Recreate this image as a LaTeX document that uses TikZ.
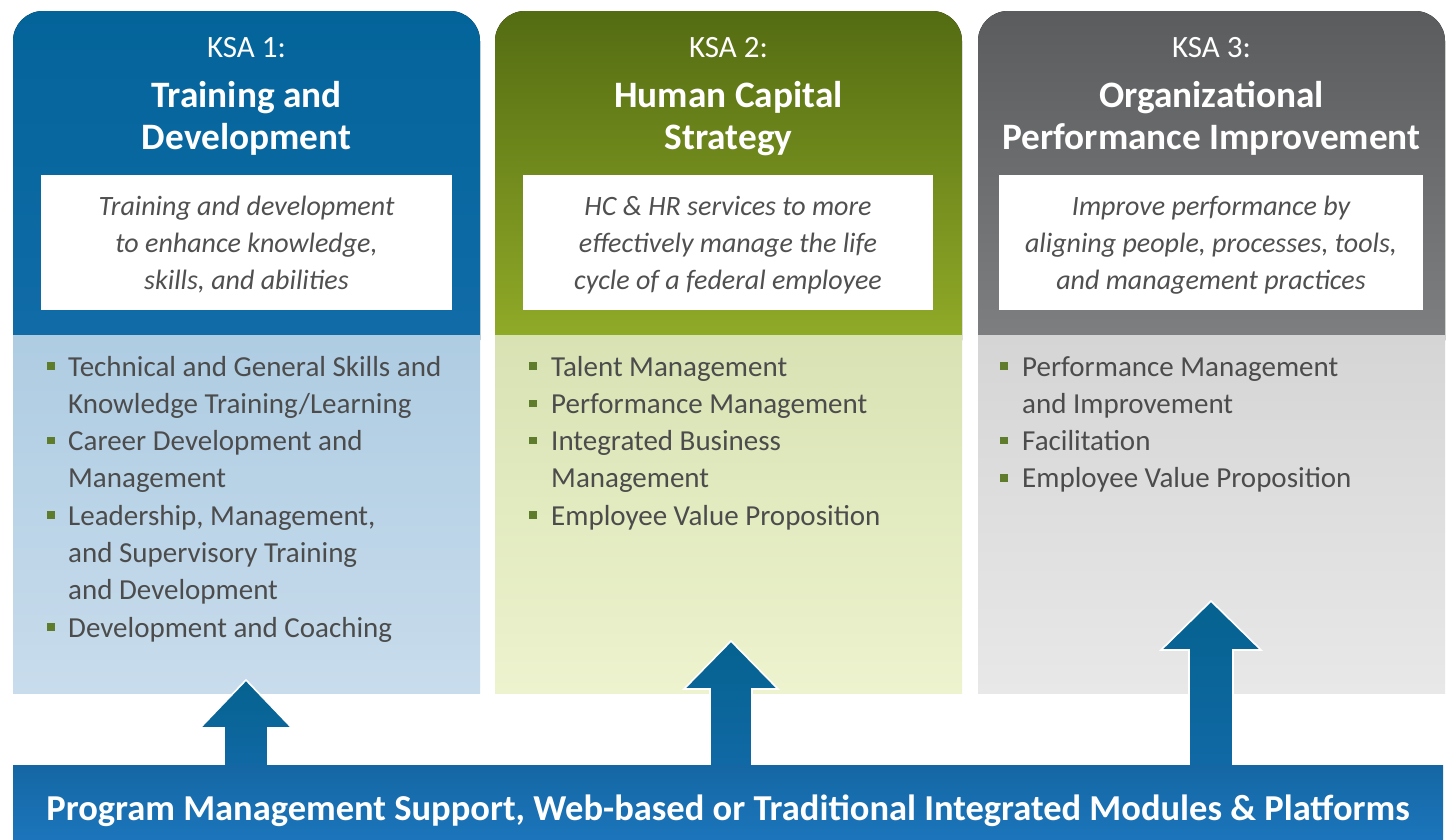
\documentclass[tikz,border=0pt]{standalone}
\usepackage{fontspec}
\setmainfont{Carlito}
\definecolor{hOneTop}{HTML}{03649A}\definecolor{hOneBot}{HTML}{126CA8}
\definecolor{hTwoTop}{HTML}{546C12}\definecolor{hTwoBot}{HTML}{96B02A}
\definecolor{hThreeTop}{HTML}{5B5C5E}\definecolor{hThreeBot}{HTML}{818284}
\definecolor{lOneTop}{HTML}{AECCE2}\definecolor{lOneBot}{HTML}{C8DCEC}
\definecolor{lTwoTop}{HTML}{D8E2B3}\definecolor{lTwoBot}{HTML}{EDF3CE}
\definecolor{lThreeTop}{HTML}{D5D5D5}\definecolor{lThreeBot}{HTML}{E8E8E8}
\definecolor{arrTop}{HTML}{05628F}\definecolor{arrBot}{HTML}{1169A6}
\definecolor{barTop}{HTML}{1467A3}\definecolor{barBot}{HTML}{1C75BB}
\definecolor{descGray}{HTML}{505050}
\definecolor{itemGray}{HTML}{4C4C4C}
\definecolor{bulGreen}{HTML}{5F7B2C}
\newcommand\txtline[5]{\node[#1, anchor=base] (#2) at (#3,#4) {#5};}
\newcommand\itemline[4]{\node[itm] (#1) at (#2,#3) {#4};}
\newcommand\bulletat[3]{\node[bul] (#1) at (#2,#3) {};}
\begin{document}
\begin{tikzpicture}[x=1pt,y=-1pt,
  ksa/.style={text=white, inner sep=0, font=\fontsize{31}{36}\selectfont},
  ttl/.style={text=white, inner sep=0, font=\bfseries\fontsize{37.3}{42}\selectfont},
  desc/.style={text=descGray, inner sep=0, font=\itshape\fontsize{28}{37}\selectfont},
  descbox/.style={fill=white, minimum height=135, inner sep=0},
  itm/.style={text=itemGray, inner sep=0, anchor=base west, font=\fontsize{29}{37}\selectfont},
  bul/.style={fill=bulGreen, minimum width=8, minimum height=7.5, inner sep=0},
  blockarrow/.style={draw=white, line width=1.6, line join=miter, top color=arrTop, bottom color=arrBot},
  bartext/.style={text=white, inner sep=0, font=\bfseries\fontsize{36.5}{40}\selectfont}
]
\useasboundingbox (0,0) rectangle (1450,839);
\fill[white] (0,0) rectangle (1450,839);

% ---- column headers (rounded tops) ----
\fill[rounded corners=30, top color=hOneTop, bottom color=hOneBot] (13,11) rectangle (480,370);
\fill[rounded corners=30, top color=hTwoTop, bottom color=hTwoBot] (495,11) rectangle (962,370);
\fill[rounded corners=30, top color=hThreeTop, bottom color=hThreeBot] (978,11) rectangle (1445,370);

% ---- column bodies ----
\fill[top color=lOneTop, bottom color=lOneBot] (13,335) rectangle (480,693);
\fill[top color=lTwoTop, bottom color=lTwoBot] (495,335) rectangle (962,693);
\fill[top color=lThreeTop, bottom color=lThreeBot] (978,335) rectangle (1445,693);

% ---- header texts ----
\txtline{ksa}{k1}{246.5}{57}{KSA 1:}
\txtline{ttl}{t1a}{246.5}{107}{Training and}
\txtline{ttl}{t1b}{246.5}{149}{Development}
\txtline{ksa}{k2}{728.5}{57}{KSA 2:}
\txtline{ttl}{t2a}{728.5}{107}{Human Capital}
\txtline{ttl}{t2b}{728.5}{149}{Strategy}
\txtline{ksa}{k3}{1211.5}{57}{KSA 3:}
\txtline{ttl}{t3a}{1211.5}{107}{Organizational}
\txtline{ttl}{t3b}{1211.5}{149}{Performance Improvement}

% ---- description boxes ----
\node[descbox, minimum width=411] (d1) at (246.5,242.5) {};
\node[descbox, minimum width=410] (d2) at (728,242.5) {};
\node[descbox, minimum width=424] (d3) at (1211,242.5) {};
\txtline{desc}{d1a}{246.5}{215}{Training and development}
\txtline{desc}{d1b}{246.5}{252}{to enhance knowledge,}
\txtline{desc}{d1c}{246.5}{289}{skills, and abilities}
\txtline{desc}{d2a}{728}{215}{HC \& HR services to more}
\txtline{desc}{d2b}{728}{252}{effectively manage the life}
\txtline{desc}{d2c}{728}{289}{cycle of a federal employee}
\txtline{desc}{d3a}{1211}{215}{Improve performance by}
\txtline{desc}{d3b}{1211}{252}{aligning people, processes, tools,}
\txtline{desc}{d3c}{1211}{289}{and management practices}

% ---- bullet lists ----
% column 1
\bulletat{b1a}{50.5}{366}
\itemline{i1a}{68}{376}{Technical and General Skills and}
\itemline{i1b}{68}{413.3}{Knowledge Training/Learning}
\bulletat{b1b}{50.5}{440.6}
\itemline{i1c}{68}{450.6}{Career Development and}
\itemline{i1d}{68}{487.9}{Management}
\bulletat{b1c}{50.5}{515.2}
\itemline{i1e}{68}{525.2}{Leadership, Management,}
\itemline{i1f}{68}{562.5}{and Supervisory Training}
\itemline{i1g}{68}{599.8}{and Development}
\bulletat{b1d}{50.5}{627.1}
\itemline{i1h}{68}{637.1}{Development and Coaching}
% column 2
\bulletat{b2a}{532.5}{366}
\itemline{i2a}{551}{376}{Talent Management}
\bulletat{b2b}{532.5}{403.3}
\itemline{i2b}{551}{413.3}{Performance Management}
\bulletat{b2c}{532.5}{440.6}
\itemline{i2c}{551}{450.6}{Integrated Business}
\itemline{i2d}{551}{487.9}{Management}
\bulletat{b2d}{532.5}{515.2}
\itemline{i2e}{551}{525.2}{Employee Value Proposition}
% column 3
\bulletat{b3a}{1004}{366}
\itemline{i3a}{1022}{376}{Performance Management}
\itemline{i3b}{1022}{413.3}{and Improvement}
\bulletat{b3b}{1004}{440.6}
\itemline{i3c}{1022}{450.6}{Facilitation}
\bulletat{b3c}{1004}{477.9}
\itemline{i3d}{1022}{487.9}{Employee Value Proposition}

% ---- upward block arrows ----
\path[blockarrow] (246,680) -- (292,728) -- (268,728) -- (268,772) -- (224,772) -- (224,728) -- (200,728) -- cycle;
\path[blockarrow] (731,641) -- (778,689) -- (752,689) -- (752,772) -- (710,772) -- (710,689) -- (684,689) -- cycle;
\path[blockarrow] (1211,601) -- (1261,650) -- (1233,650) -- (1233,772) -- (1189,772) -- (1189,650) -- (1161,650) -- cycle;

% ---- bottom bar ----
\node[top color=barTop, bottom color=barBot, minimum width=1430, minimum height=74, inner sep=0] (bar) at (728,802) {};
\txtline{bartext}{bt}{728}{820}{Program Management Support, Web-based or Traditional Integrated Modules \& Platforms}
\end{tikzpicture}
\end{document}
